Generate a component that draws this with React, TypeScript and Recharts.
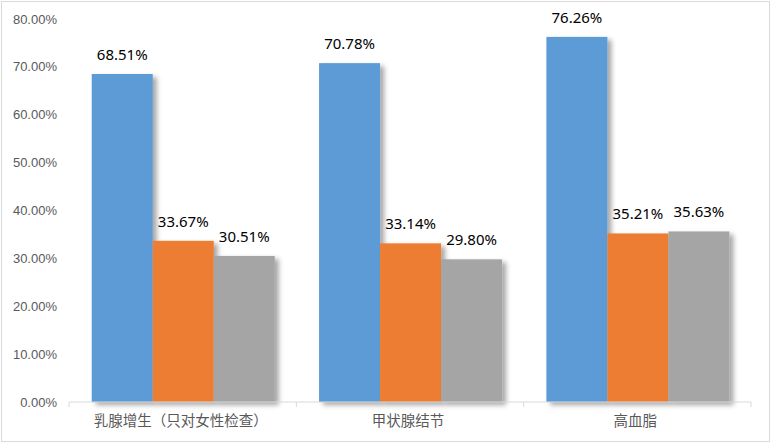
import { Bar, BarChart, LabelList, XAxis, YAxis } from "recharts"

const categories = ["乳腺增生（只对女性检查）", "甲状腺结节", "高血脂"]
const seriesA = [68.51, 70.78, 76.26]
const seriesB = [33.67, 33.14, 35.21]
const seriesC = [30.51, 29.8, 35.63]
const yTicks = [0, 10, 20, 30, 40, 50, 60, 70, 80]

const COLORS = ["#5B9BD5", "#ED7D31", "#A5A5A5"]

const data = categories.map((name, i) => ({
  name,
  a: seriesA[i],
  b: seriesB[i],
  c: seriesC[i],
}))

const pct = (v: number) => `${Number(v).toFixed(2)}%`

function CategoryTick(props: any) {
  const { x, y, payload, index, visibleTicksCount } = props
  const half = payload?.offset ?? 0
  const last = index === (visibleTicksCount ?? categories.length) - 1
  return (
    <g>
      <line x1={x - half} x2={x - half} y1={y} y2={y + 5} stroke="#d9d9d9" />
      {last && <line x1={x + half} x2={x + half} y1={y} y2={y + 5} stroke="#d9d9d9" />}
      <text
        x={x - 2}
        y={y + 24}
        textAnchor="middle"
        fill="#595959"
        fontSize={14.5}
        fontFamily="'Noto Sans CJK SC', 'Noto Sans', sans-serif"
      >
        {payload.value}
      </text>
    </g>
  )
}

const ShadowBar = (props: any) => {
  const { x, y, width, height, fill } = props
  if (!height || height <= 0) return null
  return <rect x={x} y={y} width={width} height={height} fill={fill} filter="url(#barShadow)" />
}

const labelStyle = {
  fill: "#000",
  fontSize: 15,
  fontFamily: "'Noto Sans', sans-serif",
}

export default function App() {
  return (
    <div style={{ position: "absolute", left: 0, top: 0, width: 771, height: 443, background: "#fff" }}>
      <div
        style={{
          position: "absolute",
          left: 1,
          top: 1,
          width: 769,
          height: 441,
          border: "1px solid #d9d9d9",
          boxSizing: "border-box",
        }}
      />
      <div style={{ position: "absolute", left: 0, top: 0 }}>
        <BarChart
          width={771}
          height={443}
          data={data}
          margin={{ top: 19, right: 20, bottom: 0, left: 0 }}
          barCategoryGap="10%"
          barGap={0}
        >
          <defs>
            <filter id="barShadow" x="-20%" y="-20%" width="150%" height="150%">
              <feDropShadow dx={4} dy={3} stdDeviation={2.5} floodColor="#000" floodOpacity={0.35} />
            </filter>
          </defs>
          <XAxis
            dataKey="name"
            height={41}
            axisLine={{ stroke: "#d9d9d9" }}
            tickLine={false}
            tickSize={0}
            tickMargin={0}
            interval={0}
            tick={<CategoryTick />}
          />
          <YAxis
            width={69}
            domain={[0, 80]}
            ticks={yTicks}
            axisLine={false}
            tickLine={false}
            tickMargin={6}
            tickFormatter={pct}
            tick={{ fill: "#595959", fontSize: 13, fontFamily: "'Liberation Sans', sans-serif" }}
          />
          <Bar dataKey="a" fill={COLORS[0]} shape={ShadowBar} isAnimationActive={false}>
            <LabelList dataKey="a" position="top" offset={14} formatter={pct} style={labelStyle} />
          </Bar>
          <Bar dataKey="b" fill={COLORS[1]} shape={ShadowBar} isAnimationActive={false}>
            <LabelList dataKey="b" position="top" offset={14} formatter={pct} style={labelStyle} />
          </Bar>
          <Bar dataKey="c" fill={COLORS[2]} shape={ShadowBar} isAnimationActive={false}>
            <LabelList dataKey="c" position="top" offset={14} formatter={pct} style={labelStyle} />
          </Bar>
        </BarChart>
      </div>
    </div>
  )
}
